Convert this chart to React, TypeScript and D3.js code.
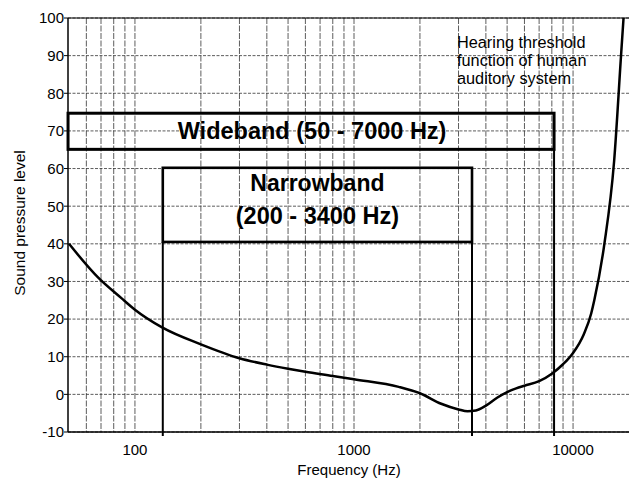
import React from "react";
import * as d3 from "d3";

const freqs = [50, 68, 87, 100, 133, 200, 300, 400, 500, 600, 800, 1000, 1600, 2000, 2500, 3000, 3300, 3600, 4000, 4500, 5000, 5500, 6000, 7000, 8000, 9000, 10000, 11200, 12100, 12500, 13900, 15400, 16600, 17000];
const spl = [40, 31, 25.5, 22.5, 17.8, 13.3, 9.6, 7.9, 6.8, 6.0, 4.9, 4.0, 2.0, 0.3, -2.5, -4.0, -4.5, -4.3, -3.0, -0.9, 0.6, 1.6, 2.3, 3.5, 5.5, 8.0, 11, 16, 21.5, 25, 40, 62, 91, 100];

const yTicks = [100, 90, 80, 70, 60, 50, 40, 30, 20, 10, 0, -10];
const xTickLabels = [100, 1000, 10000];

const bandNames = ["Wideband (50 - 7000 Hz)", "Narrowband|(200 - 3400 Hz)"];
const bandLowHz = [49.5, 134];
const bandHighHz = [8190, 3457];
const bandBottom = [65.1, 40.5];
const bandTop = [74.7, 60.2];

const annotation = ["Hearing threshold", "function of human", "auditory system"];

const W = 629;
const H = 478;
const FONT = "'Liberation Sans', Arial, sans-serif";

export default function App() {
  const x = d3.scaleLog().domain([50, 20000]).range([69, 639]);
  const y = d3.scaleLinear().domain([-10, 100]).range([432, 18]);
  const left = 68;
  const right = W;

  const minor: number[] = [];
  for (let dec = 10; dec <= 10000; dec *= 10) {
    for (let m = 1; m <= 9; m++) {
      const f = dec * m;
      if (f > 50 && f <= 10000) minor.push(f);
    }
  }

  const pts: [number, number][] = freqs.map((f, i) => [x(f), y(spl[i])]);
  const line = d3.line().curve(d3.curveMonotoneX)(pts) || "";

  return (
    <svg width={W} height={H} style={{ position: "absolute", left: 0, top: 0, background: "#fff" }} fontFamily={FONT}>
      <rect x={0} y={0} width={W} height={H} fill="#fff" />
      {/* horizontal grid */}
      {yTicks.map((t) => (
        <line key={"h" + t} x1={left} x2={right} y1={y(t)} y2={y(t)} stroke="#333" strokeWidth={0.8} strokeDasharray="3,1.5" />
      ))}
      {/* vertical grid */}
      {minor.map((f) => (
        <line key={"v" + f} x1={x(f)} x2={x(f)} y1={y(100)} y2={y(-10)} stroke="#333" strokeWidth={0.8} strokeDasharray="6,1.5" />
      ))}
      {/* axes frame */}
      <line x1={left} x2={left} y1={y(100)} y2={y(-10)} stroke="#000" strokeWidth={1.5} />
      <line x1={left} x2={right} y1={y(-10)} y2={y(-10)} stroke="#000" strokeWidth={1.5} />
      <line x1={left} x2={right} y1={y(100)} y2={y(100)} stroke="#000" strokeWidth={1.2} />
      {yTicks.map((t) => (
        <g key={"yt" + t}>
          <line x1={left - 4} x2={left} y1={y(t)} y2={y(t)} stroke="#000" strokeWidth={1} />
          <text x={left - 4} y={y(t)} dy="0.36em" textAnchor="end" fontSize={15} fill="#000">{t}</text>
        </g>
      ))}
      {xTickLabels.map((t) => (
        <text key={"xt" + t} x={x(t)} y={455} textAnchor="middle" fontSize={15} fill="#000">{t}</text>
      ))}
      <text x={349} y={475} textAnchor="middle" fontSize={15} fill="#000">Frequency (Hz)</text>
      <text transform="translate(25,223) rotate(-90)" textAnchor="middle" fontSize={15.5} fill="#000">Sound pressure level</text>

      {/* band boxes */}
      {bandNames.map((name, i) => {
        const x0 = x(bandLowHz[i]);
        const x1 = x(bandHighHz[i]);
        const yt = y(bandTop[i]);
        const yb = y(bandBottom[i]);
        const parts = name.split("|");
        const cx = (x0 + x1) / 2 + (i === 0 ? 1 : 0);
        return (
          <g key={"b" + i}>
            <line x1={x1} x2={x1} y1={yb} y2={436} stroke="#000" strokeWidth={2} />
            {i === 1 && <line x1={x0} x2={x0} y1={yb} y2={436} stroke="#000" strokeWidth={2} />}
            <rect x={x0} y={yt} width={x1 - x0} height={yb - yt} fill="none" stroke="#000" strokeWidth={i === 0 ? 3 : 2.6} />
            {parts.length === 1 ? (
              <text x={cx} y={yb - 10} textAnchor="middle" fontSize={23.5} fontWeight="bold" fill="#000">{parts[0]}</text>
            ) : (
              <>
                <text x={cx} y={yt + 23} textAnchor="middle" fontSize={23} fontWeight="bold" fill="#000">{parts[0]}</text>
                <text x={cx} y={yt + 56} textAnchor="middle" fontSize={23.5} fontWeight="bold" fill="#000">{parts[1]}</text>
              </>
            )}
          </g>
        );
      })}

      {/* threshold curve */}
      <path d={line} fill="none" stroke="#000" strokeWidth={2.5} />

      {annotation.map((s, i) => (
        <text key={"a" + i} x={457} y={48 + i * 18} fontSize={16.3} fill="#000">{s}</text>
      ))}
    </svg>
  );
}
